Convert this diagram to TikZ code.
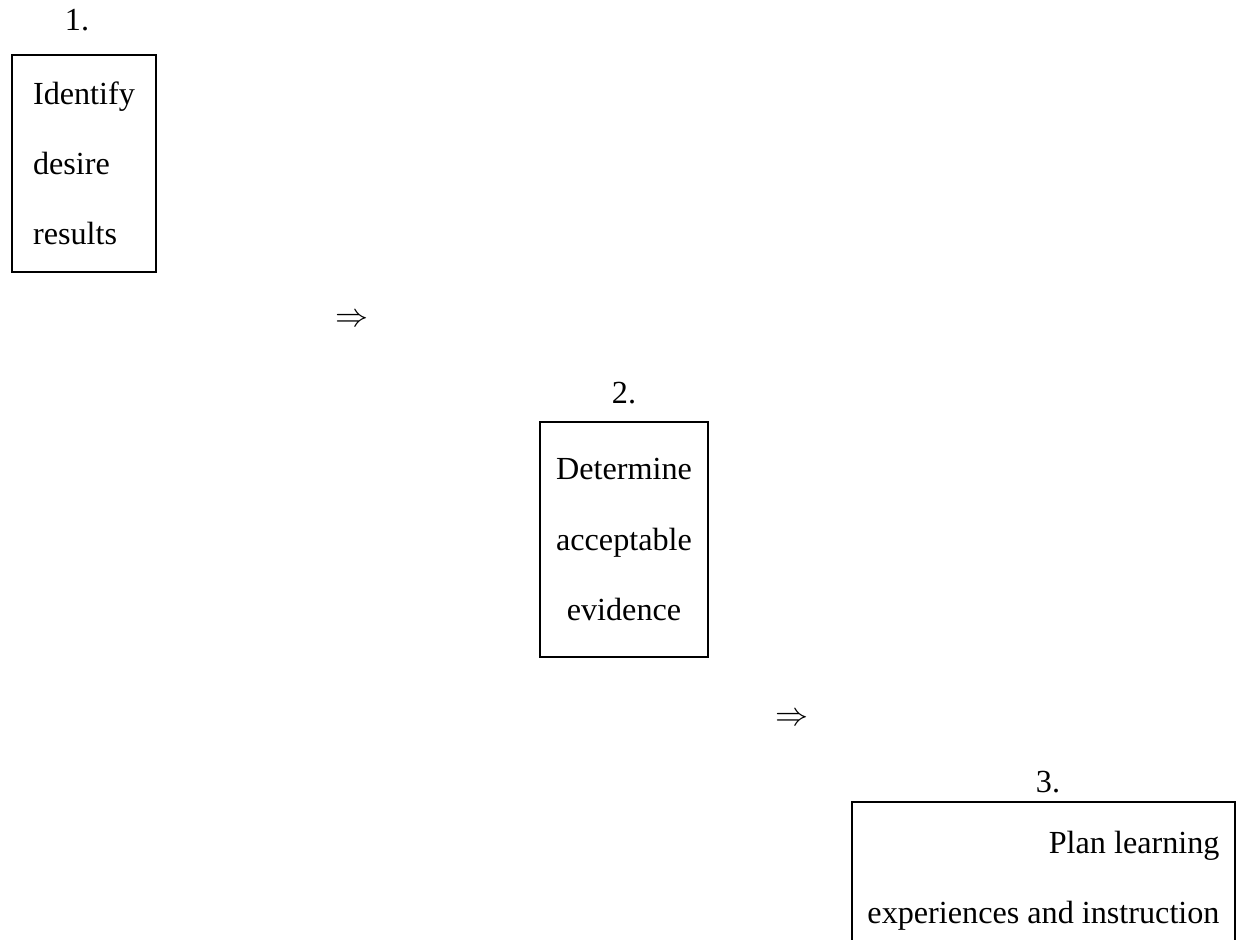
\documentclass[tikz,border=0pt]{standalone}
\usepackage{fontspec}
\setmainfont{Liberation Serif}
\begin{document}
\begin{tikzpicture}
[x=0.3636pt,y=-0.3636pt,%
  boxdecorate/.style={shape=rectangle,draw,line width=0.75pt,inner sep=0pt,
    font=\fontsize{11.7}{25.5}\selectfont},%
  numdecorate/.style={anchor=base,inner sep=0pt,font=\fontsize{11.7}{14}\selectfont},%
  arrowdecorate/.style={inner sep=0pt,font=\fontsize{12}{14}\selectfont}]
\clip (0,0) rectangle (1238,940);
%% boxes
\node (step1) at (84,163.5) [boxdecorate,align=left,minimum width=52.4pt,minimum height=78.9pt]
  {Identify\\desire\\results};
\node (step2) at (624,539.5) [boxdecorate,align=center,minimum width=61.1pt,minimum height=85.5pt]
  {Determine\\acceptable\\evidence};
\node (step3) at (1043.5,881) [boxdecorate,align=right,minimum width=139.3pt,minimum height=57.4pt]
  {Plan learning\\experiences and instruction};
%% numbers
\foreach \nodename/\x/\y/\lbl in {num1/77/30/1., num2/624/403/2., num3/1048/792/3.} {
  \node (\nodename) at (\x,\y) [numdecorate] {\lbl};
}
%% arrows
\foreach \nodename/\x/\y in {arr1/352/320, arr2/792/719} {
  \node (\nodename) at (\x,\y) [arrowdecorate] {$\Rightarrow$};
}
\end{tikzpicture}
\end{document}
